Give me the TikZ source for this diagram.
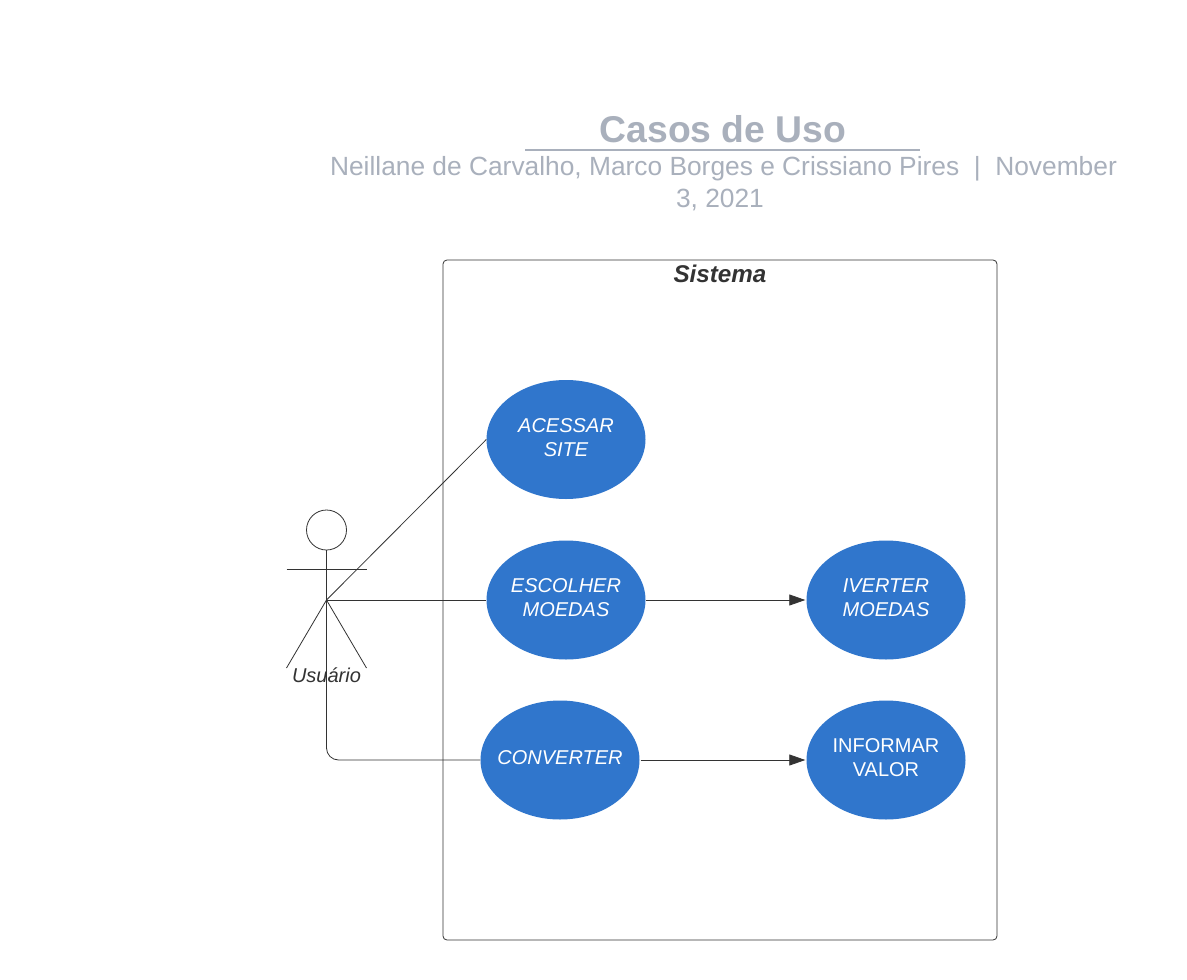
\documentclass[tikz,border=0pt]{standalone}
\usepackage{fontspec}
\setmainfont{Liberation Sans}
\usetikzlibrary{shapes.geometric,arrows.meta}
\definecolor{casoblue}{HTML}{3076CC}
\definecolor{titlegray}{HTML}{A9B0BC}
\definecolor{linegray}{HTML}{333333}
\tikzset{
    caso/.style={shape=ellipse, fill=casoblue, text=white, minimum width=159pt, minimum height=119pt, inner ysep=0pt, inner xsep=-20pt, align=center, font=\fontsize{20}{24}\selectfont, text depth=4pt},
    liga/.style={draw=linegray, line width=0.8pt},
    seta/.style={liga, -{Triangle[length=16pt,width=11pt]}}
}
\begin{document}
\begin{tikzpicture}[x=1pt,y=-1pt]

    \useasboundingbox [fill=white] (0,0) rectangle (1187,980);

    \node [text=titlegray, font=\bfseries\fontsize{37.3}{40}\selectfont] (titulo) at (723,129.5) {Casos de Uso};
    \node [text=titlegray, align=center, font=\fontsize{26.33}{32}\selectfont] (autores) at (723.5,184) {Neillane de Carvalho, Marco Borges e Crissiano Pires\ \ |\ \ November\\3, 2021\hspace*{7pt}};
    \coordinate (subA) at (525,150);
    \coordinate (subB) at (920,150);
    \draw [titlegray, line width=1.5pt] (subA) -- (subB);

    \node [draw=linegray, line width=0.8pt, rounded corners=4pt, minimum width=554pt, minimum height=680pt, inner sep=0pt] (sistema) at (720,600) {};
    \node [text=linegray, font=\bfseries\itshape\fontsize{24.2}{28}\selectfont] (sistemaT) at (720,274) {Sistema};

    \node [caso] (acessar) at (566,439.5) {\itshape ACESSAR\\\itshape SITE};
    \node [caso] (escolher) at (566,600) {\itshape ESCOLHER\\\itshape MOEDAS};
    \node [caso] (inverter) at (886,600) {\itshape IVERTER\\\itshape MOEDAS};
    \node [caso] (converter) at (560,760) {\itshape CONVERTER};
    \node [caso] (informar) at (886,760) {INFORMAR\\VALOR};

    % boneco
    \node [draw=linegray, circle, line width=0.8pt, minimum size=40pt, inner sep=0pt] (cabeca) at (326.5,530) {};
    \coordinate (quadril) at (326.5,600);
    \coordinate (bracoE) at (286.5,569);
    \coordinate (bracoD) at (366.5,569);
    \coordinate (peE) at (286.5,668);
    \coordinate (peD) at (366.5,668);
    \draw [liga] (cabeca) -- (quadril);
    \draw [liga] (bracoE) -- (bracoD);
    \draw [liga] (peE) -- (quadril) -- (peD);
    \node [text=linegray, font=\itshape\fontsize{20}{24}\selectfont] (usuario) at (326.5,675) {Usuário};

    \draw [liga] (quadril) -- (acessar.west);
    \draw [liga] (quadril) -- (escolher.west);
    \draw [liga, rounded corners=12pt] (quadril) |- (converter.west);

    \draw [seta] ([xshift=0.5pt]escolher.east) -- ([xshift=-1pt]inverter.west);
    \draw [seta] ([xshift=1pt]converter.east) -- ([xshift=-1pt]informar.west);

\end{tikzpicture}
\end{document}
